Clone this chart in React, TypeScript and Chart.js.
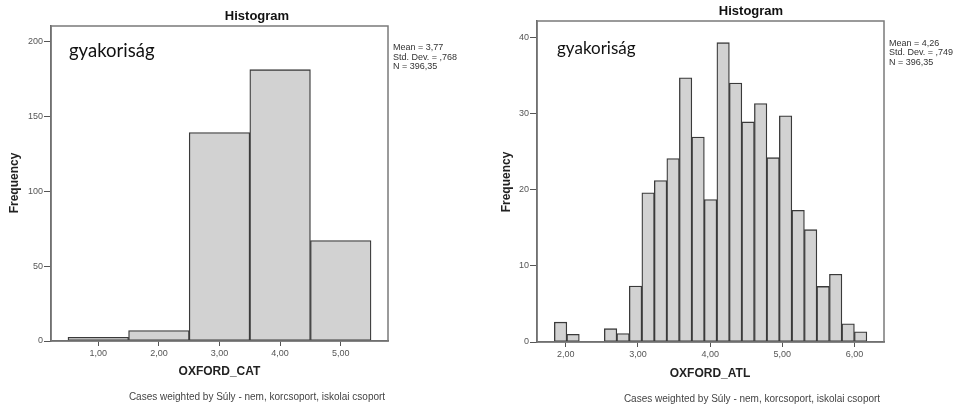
import React, { useEffect, useRef } from "react";
import { Chart, registerables } from "chart.js";
Chart.register(...registerables);

// ---- Left histogram: OXFORD_CAT ----
const catBins = [1, 2, 3, 4, 5];
const catFreq = [2.5, 7.0, 139.3, 181.3, 67.1];
const catYTicks = [0, 50, 100, 150, 200];
const catXTicks = [1, 2, 3, 4, 5];
const catStats = ["Mean = 3,77", "Std. Dev. = ,768", "N = 396,35"];

// ---- Right histogram: OXFORD_ATL ----
const atlBins = [
  1.927, 2.1, 2.273, 2.446, 2.62, 2.793, 2.966, 3.14, 3.313, 3.486, 3.66, 3.833, 4.006,
  4.18, 4.353, 4.526, 4.7, 4.873, 5.046, 5.22, 5.393, 5.566, 5.74, 5.913, 6.086,
];
const atlFreq = [
  2.6, 1.0, 0, 0, 1.75, 1.1, 7.35, 19.6, 21.2, 24.1, 34.7, 26.9, 18.7, 39.3, 34.0, 28.9,
  31.3, 24.2, 29.7, 17.3, 14.75, 7.3, 8.9, 2.4, 1.35,
];
const atlYTicks = [0, 10, 20, 30, 40];
const atlXTicks = [2, 3, 4, 5, 6];
const atlStats = ["Mean = 4,26", "Std. Dev. = ,749", "N = 396,35"];

const titleText = "Histogram";
const yTitle = "Frequency";
const noteText = "gyakoriság";
const footText = "Cases weighted by Súly - nem, korcsoport, iskolai csoport";

const SANS = "'Liberation Sans', Arial, sans-serif";

type Cfg = {
  bins: number[];
  freq: number[];
  yTicks: number[];
  xTicks: number[];
  stats: string[];
  xTitle: string;
  xMin: number;
  xMax: number;
  yMax: number;
  yWidth: number;
  padTop: number;
  padRight: number;
  padBottom: number;
  titlePos: [number, number];
  notePos: [number, number];
  noteSize: number;
  statsPos: [number, number];
  yTitlePos: [number, number];
  xTitlePos: [number, number];
  footPos: [number, number];
};

const W = 479;
const H = 408;

function HistCanvas({ cfg }: { cfg: Cfg }) {
  const ref = useRef<HTMLCanvasElement | null>(null);
  useEffect(() => {
    const canvas = ref.current;
    if (!canvas) return;
    const textPlugin = {
      id: "spssText",
      afterDraw(chart: any) {
        const ctx = chart.ctx;
        const a = chart.chartArea;
        ctx.save();
        // frame
        ctx.strokeStyle = "#7a7a7a";
        ctx.lineWidth = 1.5;
        ctx.strokeRect(a.left, a.top, a.right - a.left, a.bottom - a.top);
        // title
        ctx.fillStyle = "#111";
        ctx.font = `bold 13px ${SANS}`;
        ctx.textAlign = "center";
        ctx.textBaseline = "middle";
        ctx.fillText(titleText, cfg.titlePos[0], cfg.titlePos[1]);
        // note
        ctx.font = `${cfg.noteSize}px Lato, 'Open Sans', sans-serif`;
        ctx.textAlign = "left";
        ctx.textBaseline = "alphabetic";
        ctx.fillStyle = "#111";
        ctx.fillText(noteText, cfg.notePos[0], cfg.notePos[1]);
        // stats
        ctx.font = `9px ${SANS}`;
        ctx.fillStyle = "#333";
        ctx.textBaseline = "middle";
        cfg.stats.forEach((s, i) => ctx.fillText(s, cfg.statsPos[0], cfg.statsPos[1] + i * 9.5));
        // axis titles
        ctx.font = `bold 12px ${SANS}`;
        ctx.fillStyle = "#222";
        ctx.textAlign = "center";
        ctx.fillText(cfg.xTitle, cfg.xTitlePos[0], cfg.xTitlePos[1]);
        ctx.save();
        ctx.translate(cfg.yTitlePos[0], cfg.yTitlePos[1]);
        ctx.rotate(-Math.PI / 2);
        ctx.fillText(yTitle, 0, 0);
        ctx.restore();
        // footnote
        ctx.font = `10px ${SANS}`;
        ctx.fillStyle = "#444";
        ctx.fillText(footText, cfg.footPos[0], cfg.footPos[1]);
        ctx.restore();
      },
    };
    const chart = new Chart(canvas, {
      type: "bar",
      data: {
        datasets: [
          {
            data: cfg.bins.map((x, i) => ({ x, y: cfg.freq[i] })),
            backgroundColor: "#d2d2d2",
            borderColor: "#3a3a3a",
            borderWidth: 1.3,
            borderSkipped: false,
            barPercentage: 1,
            categoryPercentage: 1,
          },
        ],
      },
      options: {
        responsive: false,
        animation: false,
        devicePixelRatio: 1,
        layout: { padding: { left: 0, top: cfg.padTop, right: cfg.padRight, bottom: cfg.padBottom } },
        plugins: { legend: { display: false }, tooltip: { enabled: false }, title: { display: false } },
        scales: {
          x: {
            type: "linear",
            offset: false,
            min: cfg.xMin,
            max: cfg.xMax,
            afterBuildTicks: (s: any) => {
              s.ticks = cfg.xTicks.map((v) => ({ value: v }));
            },
            afterFit: (s: any) => {
              s.height = 20;
            },
            grid: { display: true, offset: false, drawOnChartArea: false, drawTicks: true, tickLength: 5, color: "#555", lineWidth: 1 },
            border: { display: true, color: "#555", width: 1.5 },
            ticks: {
              autoSkip: false,
              maxRotation: 0,
              padding: 2,
              color: "#555",
              font: { family: SANS, size: 9 },
              callback: (v: any) => Number(v).toFixed(2).replace(".", ","),
            },
          },
          y: {
            type: "linear",
            min: 0,
            max: cfg.yMax,
            afterBuildTicks: (s: any) => {
              s.ticks = cfg.yTicks.map((v) => ({ value: v }));
            },
            afterFit: (s: any) => {
              s.width = cfg.yWidth;
            },
            grid: { display: true, offset: false, drawOnChartArea: false, drawTicks: true, tickLength: 7, color: "#555", lineWidth: 1 },
            border: { display: true, color: "#555", width: 1.5 },
            ticks: {
              padding: 1,
              color: "#555",
              font: { family: SANS, size: 9 },
              callback: (v: any) => String(v),
            },
          },
        },
      },
      plugins: [textPlugin],
    } as any);
    return () => chart.destroy();
  }, [cfg]);
  return <canvas ref={ref} width={W} height={H} style={{ display: "block", width: W, height: H }} />;
}

const leftCfg: Cfg = {
  bins: catBins,
  freq: catFreq,
  yTicks: catYTicks,
  xTicks: catXTicks,
  stats: catStats,
  xTitle: "OXFORD_CAT",
  xMin: 0.22,
  xMax: 5.78,
  yMax: 210.5,
  yWidth: 51,
  padTop: 26,
  padRight: 91,
  padBottom: 47,
  titlePos: [257, 16],
  notePos: [69, 57],
  noteSize: 18.5,
  statsPos: [393, 48],
  yTitlePos: [15, 183],
  xTitlePos: [219.5, 372],
  footPos: [257, 397],
};

const rightCfg: Cfg = {
  bins: atlBins,
  freq: atlFreq,
  yTicks: atlYTicks,
  xTicks: atlXTicks,
  stats: atlStats,
  xTitle: "OXFORD_ATL",
  xMin: 1.6,
  xMax: 6.41,
  yMax: 42.15,
  yWidth: 58,
  padTop: 21,
  padRight: 74,
  padBottom: 46,
  titlePos: [272, 11],
  notePos: [78, 53.5],
  noteSize: 17,
  statsPos: [410, 43.3],
  yTitlePos: [28, 182],
  xTitlePos: [231, 374],
  footPos: [273, 399],
};

export default function App() {
  return (
    <div style={{ position: "fixed", left: 0, top: 0, width: 958, height: 408, background: "#fff" }}>
      <div style={{ position: "absolute", left: 0, top: 0 }}>
        <HistCanvas cfg={leftCfg} />
      </div>
      <div style={{ position: "absolute", left: 479, top: 0 }}>
        <HistCanvas cfg={rightCfg} />
      </div>
    </div>
  );
}
